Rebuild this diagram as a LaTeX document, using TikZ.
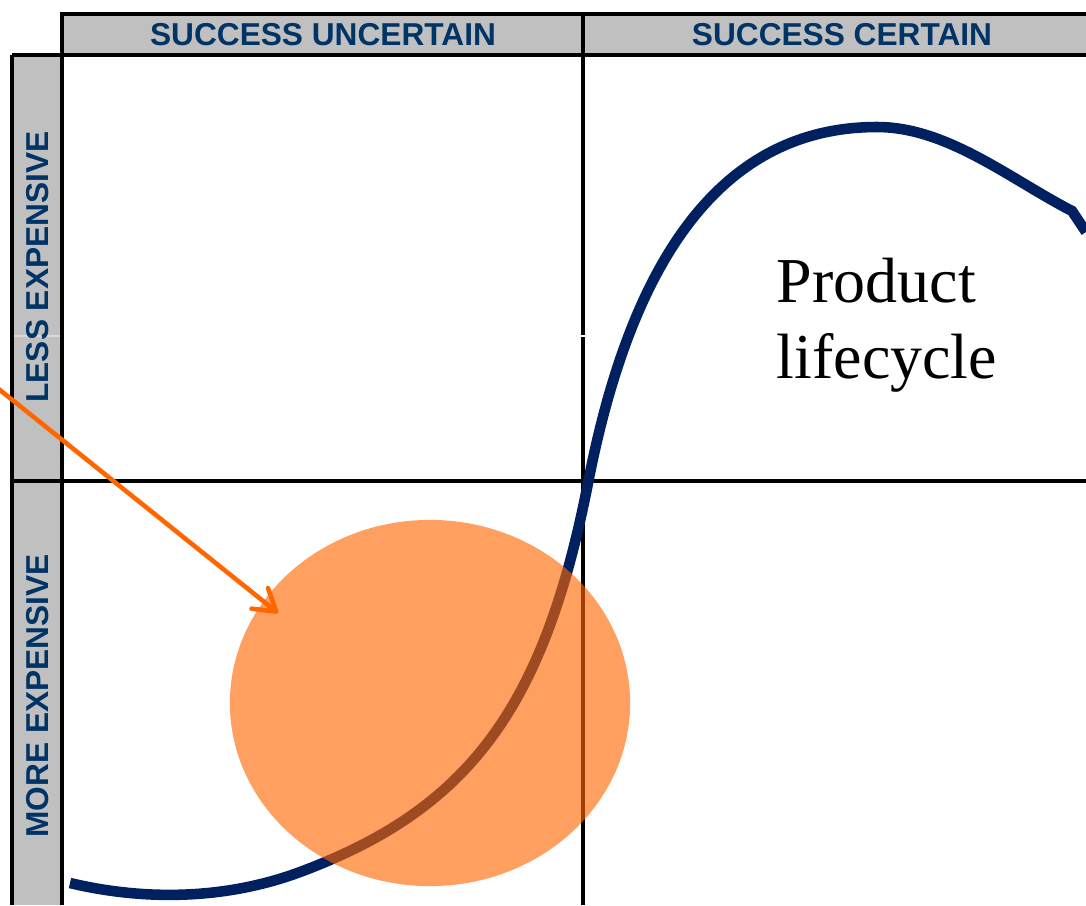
\documentclass[tikz,border=0pt]{standalone}
\usepackage{fontspec}
\setmainfont{Liberation Serif}
\newfontfamily\hdfont{Liberation Sans}
\usetikzlibrary{shapes.geometric,arrows.meta}
\definecolor{hdblue}{HTML}{003366}
\definecolor{bandgray}{HTML}{C0C0C0}
\definecolor{navyc}{HTML}{002060}
\definecolor{orng}{HTML}{FF6600}
\begin{document}
\begin{tikzpicture}[x=0.01cm,y=-0.01cm,
  gridline/.style={line width=1pt, black},
  band/.style={fill=bandgray},
  hdtext/.style={font=\hdfont\bfseries\fontsize{9}{10}\selectfont, text=hdblue, inner sep=0pt},
  bigtext/.style={font=\fontsize{18.2}{21.6}\selectfont, inner sep=0pt, anchor=base west},
  lifecurve/.style={draw=navyc, line width=3pt},
  blobstyle/.style={ellipse, fill=orng, fill opacity=0.62, draw=none, minimum width=4cm, minimum height=3.66cm, inner sep=0pt},
  pointer/.style={draw=orng, line width=1.3pt, line cap=round, -{Straight Barb[length=6pt, width=7.5pt, line width=1.3pt, round]}}
]
\useasboundingbox (0,0) rectangle (1086,905);
% bands
\fill[band] (62,14) rectangle (1086,55);
\fill[band] (12,55) rectangle (62,905);
\draw[white!70!gray, line width=0.3pt] (12,336) -- (62,336);
% grid
\draw[gridline] (62,14) -- (1086,14);
\draw[gridline] (12,55) -- (1086,55);
\draw[gridline] (12,481) -- (1086,481);
\draw[gridline] (12,55) -- (12,905);
\draw[gridline] (62,12) -- (62,905);
\draw[gridline] (583,12) -- (583,905);
\draw[white, line width=0.3pt] (580,336) -- (586,336);
% headers
\node[hdtext] (hsu) at (323,35) {SUCCESS UNCERTAIN};
\node[hdtext] (hsc) at (842,35) {SUCCESS CERTAIN};
\node[hdtext, rotate=90] (hle) at (38,267) {LESS EXPENSIVE};
\node[hdtext, rotate=90] (hme) at (38,696) {MORE EXPENSIVE};
% curve
\draw[lifecurve] (70,883) .. controls (150,902) and (230,898) .. (300,872)
  .. controls (469,809) and (544,708) .. (588,483)
  .. controls (630,267) and (717,127) .. (877,127)
  .. controls (947,127) and (1010,179) .. (1072,211)
  -- (1086,232);
% blob
\node[blobstyle] (blob) at (430,703) {};
% arrow
\coordinate (arrS) at (-5,386);
\coordinate (arrE) at (278,613);
\draw[pointer] (arrS) -- (arrE);
% label
\node[bigtext] (prod) at (776,302) {Product};
\node[bigtext] (life) at (776,378) {lifecycle};
\end{tikzpicture}
\end{document}
